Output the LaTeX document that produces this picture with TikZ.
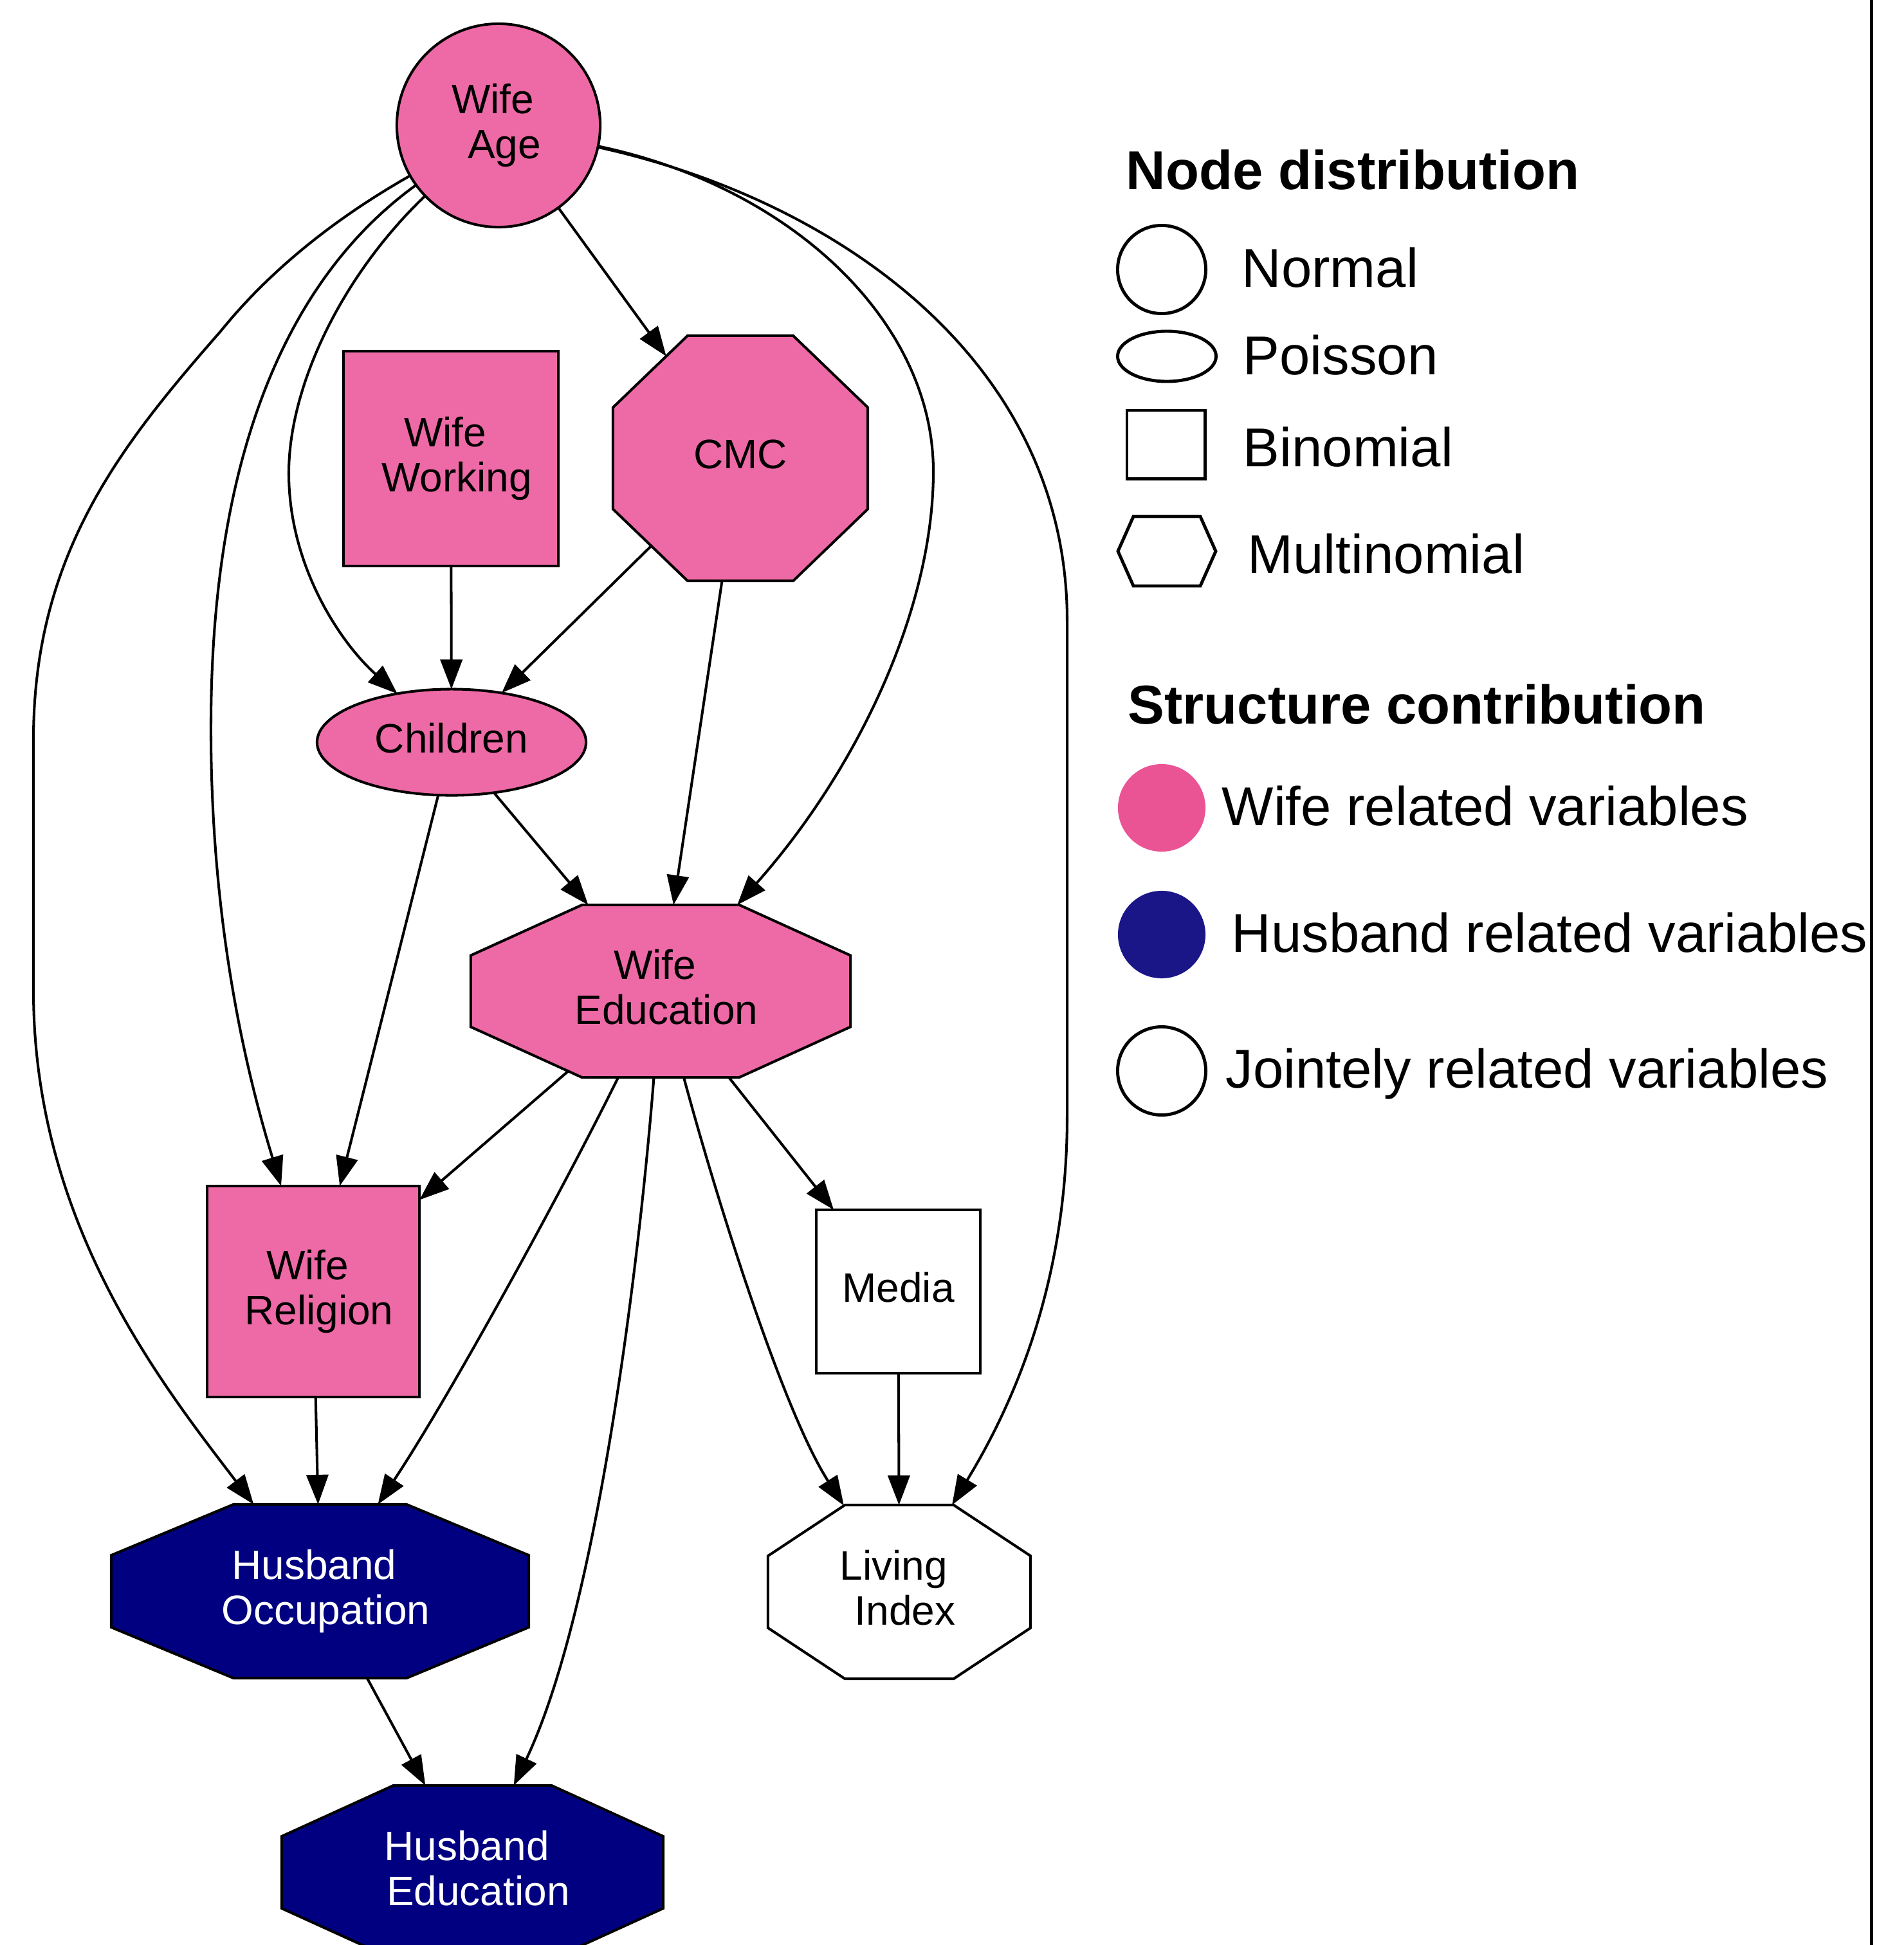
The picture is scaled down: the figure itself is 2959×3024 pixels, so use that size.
\documentclass[tikz,border=0pt]{standalone}
\usepackage{fontspec}
\setmainfont{Liberation Sans}
\usetikzlibrary{arrows.meta,shapes.geometric}
\makeatletter
\pgfdeclareshape{octo}{%
  \inheritsavedanchors[from=rectangle]%
  \inheritanchor[from=rectangle]{center}%
  \inheritanchor[from=rectangle]{north}%
  \inheritanchor[from=rectangle]{south}%
  \inheritanchor[from=rectangle]{east}%
  \inheritanchor[from=rectangle]{west}%
  \inheritanchor[from=rectangle]{north east}%
  \inheritanchor[from=rectangle]{north west}%
  \inheritanchor[from=rectangle]{south east}%
  \inheritanchor[from=rectangle]{south west}%
  \backgroundpath{%
    \pgf@process{\northeast}%
    \edef\oct@xr{\the\pgf@x}\edef\oct@yt{\the\pgf@y}%
    \pgf@process{\southwest}%
    \edef\oct@xl{\the\pgf@x}\edef\oct@yb{\the\pgf@y}%
    \pgfmathsetlengthmacro\oct@cx{0.29289*((\oct@xr)-(\oct@xl))}%
    \pgfmathsetlengthmacro\oct@cy{0.29289*((\oct@yt)-(\oct@yb))}%
    \pgfpathmoveto{\pgfpoint{(\oct@xl)+(\oct@cx)}{\oct@yt}}%
    \pgfpathlineto{\pgfpoint{(\oct@xr)-(\oct@cx)}{\oct@yt}}%
    \pgfpathlineto{\pgfpoint{\oct@xr}{(\oct@yt)-(\oct@cy)}}%
    \pgfpathlineto{\pgfpoint{\oct@xr}{(\oct@yb)+(\oct@cy)}}%
    \pgfpathlineto{\pgfpoint{(\oct@xr)-(\oct@cx)}{\oct@yb}}%
    \pgfpathlineto{\pgfpoint{(\oct@xl)+(\oct@cx)}{\oct@yb}}%
    \pgfpathlineto{\pgfpoint{\oct@xl}{(\oct@yb)+(\oct@cy)}}%
    \pgfpathlineto{\pgfpoint{\oct@xl}{(\oct@yt)-(\oct@cy)}}%
    \pgfpathclose
  }%
  \anchorborder{%
    \edef\oct@dx{\pgf@sys@tonumber\pgf@x}%
    \edef\oct@dy{\pgf@sys@tonumber\pgf@y}%
    \pgf@process{\northeast}%
    \edef\oct@xr{\pgf@sys@tonumber\pgf@x}\edef\oct@yt{\pgf@sys@tonumber\pgf@y}%
    \pgf@process{\southwest}%
    \edef\oct@xl{\pgf@sys@tonumber\pgf@x}\edef\oct@yb{\pgf@sys@tonumber\pgf@y}%
    \pgfmathsetmacro\oct@a{((\oct@xr)-(\oct@xl))/2}%
    \pgfmathsetmacro\oct@b{((\oct@yt)-(\oct@yb))/2}%
    \pgfmathsetmacro\oct@u{abs(\oct@dx)/\oct@a}%
    \pgfmathsetmacro\oct@v{abs(\oct@dy)/\oct@b}%
    \pgfmathsetmacro\oct@m{max(\oct@u,\oct@v,(\oct@u+\oct@v)/1.41421,0.00001)}%
    \pgfmathsetmacro\oct@rx{((\oct@xl)+(\oct@xr))/2+(\oct@dx)/\oct@m}%
    \pgfmathsetmacro\oct@ry{((\oct@yb)+(\oct@yt))/2+(\oct@dy)/\oct@m}%
    \pgf@x=\oct@rx pt\relax
    \pgf@y=\oct@ry pt\relax
  }%
}
\makeatother
\definecolor{wpink}{HTML}{EE6AA7}
\definecolor{hnavy}{HTML}{000080}
\definecolor{lpink}{RGB}{234,83,148}
\definecolor{lnavy}{RGB}{27,22,136}
\newcommand\lsp{\rule{0.28em}{0pt}}
\newcommand\ldp{\rule[-0.2em]{0pt}{0pt}}
\begin{document}
\begin{tikzpicture}[x=0.01cm, y=-0.01cm,
  gnode/.style={draw=black, line width=1.15pt, inner sep=0pt, outer sep=0pt,
    font=\fontsize{18.2}{19.9}\selectfont, align=center},
  wnode/.style={gnode, fill=wpink},
  hnodes/.style={gnode, fill=hnavy, text=white},
  jnode/.style={gnode, fill=white},
  edge/.style={line width=1.15pt, -{Triangle[length=0.46cm,width=0.34cm]}},
  leg/.style={font=\fontsize{24.2}{29}\selectfont, anchor=base west, inner sep=0pt},
  legh/.style={font=\fontsize{24.2}{29}\selectfont\bfseries, anchor=base west, inner sep=0pt},
  legshape/.style={draw=black, line width=1.4pt, inner sep=0pt}
]
\fill[white] (0,0) rectangle (2959,3024);
\useasboundingbox (0,0) rectangle (2959,3024);

% graph nodes
\node[wnode, circle, minimum size=3.16cm] (wa) at (775,195) {Wife\lsp\\\lsp Age\ldp};
\node[wnode, rectangle, minimum width=3.34cm, minimum height=3.34cm] (ww) at (701,713) {Wife\lsp\\\lsp Working\ldp};
\node[wnode, octo, minimum width=3.96cm, minimum height=3.81cm] (cmc) at (1151,712.5) {CMC\ldp};
\node[wnode, ellipse, minimum width=4.18cm, minimum height=1.65cm] (ch) at (702,1154) {Children\ldp};
\node[wnode, octo, minimum width=5.90cm, minimum height=2.68cm] (we) at (1027,1541) {Wife\lsp\\\lsp Education\ldp};
\node[wnode, rectangle, minimum width=3.30cm, minimum height=3.28cm] (wr) at (487,2008) {Wife\lsp\\\lsp Religion\ldp};
\node[jnode, rectangle, minimum width=2.55cm, minimum height=2.54cm] (me) at (1396.5,2008) {Media\ldp};
\node[hnodes, octo, minimum width=6.49cm, minimum height=2.70cm] (ho) at (497.5,2474) {Husband\lsp\\\lsp Occupation\ldp};
\node[jnode, octo, minimum width=4.08cm, minimum height=2.70cm] (li) at (1398,2475) {Living\lsp\\\lsp Index\ldp};
\node[hnodes, octo, minimum width=5.93cm, minimum height=2.70cm] (he) at (734.5,2911) {Husband\lsp\\\lsp Education\ldp};

% edges
\draw[edge] (wa) -- (cmc);
\draw[edge] (wa) .. controls (530,430) and (450,600) .. (449,733) .. controls (448,880) and (530,1000) .. (ch);
\draw[edge] (wa) .. controls (450,430) and (330,700) .. (328,1119) .. controls (326,1450) and (390,1690) .. (wr);
\draw[edge] (wa) .. controls (520,340) and (420,420) .. (343,515) .. controls (190,690) and (52,860) .. (52,1150) -- (52,1540) .. controls (52,1900) and (250,2150) .. (ho);
\draw[edge] (wa) .. controls (1230,290) and (1451,500) .. (1451,733) .. controls (1451,950) and (1330,1200) .. (we);
\draw[edge] (wa) .. controls (1300,310) and (1659,560) .. (1659,965) -- (1659,1736) .. controls (1659,2010) and (1565,2200) .. (li);
\draw[edge] (ww) -- (ch);
\draw[edge] (cmc) -- (ch);
\draw[edge] (cmc) -- (we);
\draw[edge] (ch) -- (we);
\draw[edge] (ch) -- (wr);
\draw[edge] (we) -- (wr);
\draw[edge] (we) .. controls (880,1840) and (700,2170) .. (ho);
\draw[edge] (we) .. controls (995,1950) and (930,2500) .. (he);
\draw[edge] (we) .. controls (1110,1850) and (1215,2190) .. (li);
\draw[edge] (we) -- (me);
\draw[edge] (wr) -- (ho);
\draw[edge] (me) -- (li);
\draw[edge] (ho) -- (he);

% legend
\node[legh] (lgt1) at (1750,294) {Node distribution};
\node[legshape, circle, minimum size=1.37cm] (lg1) at (1806,419) {};
\node[leg] (lg1t) at (1930,446) {Normal};
\node[legshape, ellipse, minimum width=1.53cm, minimum height=0.78cm] (lg2) at (1814,554) {};
\node[leg] (lg2t) at (1932,582) {Poisson};
\node[legshape, rectangle, minimum width=1.21cm, minimum height=1.06cm] (lg3) at (1812.5,691) {};
\node[leg] (lg3t) at (1932,725) {Binomial};
\draw[legshape] (1762,803) -- (1866,803) -- (1890,857) -- (1866,911) -- (1762,911) -- (1738,857) -- cycle;
\node[leg] (lg4t) at (1939,891) {Multinomial};
\node[legh] (lgt2) at (1753,1125) {Structure contribution};
\node[circle, fill=lpink, minimum size=1.36cm, inner sep=0pt] (lc1) at (1806,1256) {};
\node[leg] (lc1t) at (1899,1283) {Wife related variables};
\node[circle, fill=lnavy, minimum size=1.36cm, inner sep=0pt] (lc2) at (1806,1453) {};
\node[leg] (lc2t) at (1914,1480) {Husband related variables};
\node[legshape, circle, minimum size=1.37cm] (lc3) at (1806,1665) {};
\node[leg] (lc3t) at (1905,1691) {Jointely related variables};
\draw[line width=1.4pt] (2909,0) -- (2909,3024);
\end{tikzpicture}
\end{document}
